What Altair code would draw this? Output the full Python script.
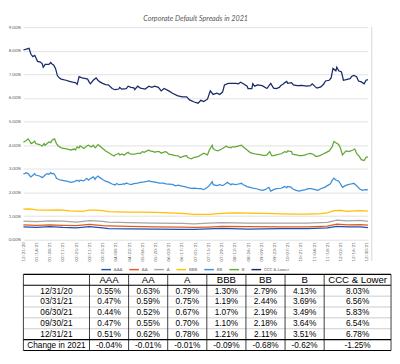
import altair as alt
import pandas as pd

START = pd.Timestamp("2020-12-31")
SERIES = ["AAA", "AA", "A", "BBB", "BB", "B", "CCC & Lower"]
COLORS = ["#2150b5", "#e35b1c", "#a5a5a5", "#ffc000", "#3d8ed9", "#62a835", "#182a6c"]

# ---- line data (day offset from 12/31/20, spread in %) ----
ccc_days = [0, 4, 6, 8, 10, 12, 13, 15, 18, 20,
            21, 23, 27, 29, 30, 32, 34, 36, 38, 40,
            45, 49, 52, 55, 57, 59, 62, 65, 68, 70,
            71, 74, 77, 79, 81, 84, 87, 90, 94, 97,
            101, 102, 104, 109, 111, 114, 117, 118, 121, 124,
            129, 133, 136, 139, 143, 146, 149, 154, 158, 163,
            168, 173, 176, 181, 185, 188, 191, 195, 198, 201,
            205, 208, 211, 213, 217, 225, 228, 230, 233, 237,
            238, 242, 243, 245, 248, 253, 258, 262, 265, 268,
            271, 273, 275, 277, 279, 280, 284, 286, 290, 295,
            300, 304, 306, 309, 311, 315, 318, 320, 324, 326,
            328, 331, 332, 334, 337, 339, 342, 346, 348, 350,
            353, 355, 358, 361, 363, 365]
ccc_vals = [8.03, 8.08, 8.10, 7.85, 7.75, 7.80, 7.72, 7.55, 7.52, 7.45,
            7.30, 7.42, 7.42, 7.50, 7.45, 7.40, 7.25, 6.95, 6.85, 6.80,
            6.75, 6.70, 6.67, 6.65, 6.58, 6.90, 6.85, 6.83, 6.80, 6.65,
            6.60, 6.75, 6.85, 6.75, 6.68, 6.62, 6.57, 6.56, 6.40, 6.35,
            6.38, 6.45, 6.38, 6.40, 6.50, 6.45, 6.43, 6.35, 6.50, 6.42,
            6.38, 6.50, 6.45, 6.50, 6.45, 6.30, 6.40, 6.30, 6.20, 6.10,
            6.05, 6.05, 5.92, 5.83, 5.78, 5.90, 5.85, 5.95, 6.30, 6.15,
            6.20, 6.15, 6.25, 6.55, 6.62, 6.62, 6.60, 6.67, 6.60, 6.50,
            6.40, 6.40, 6.60, 6.50, 6.55, 6.52, 6.40, 6.62, 6.42, 6.40,
            6.45, 6.54, 6.58, 6.65, 6.70, 6.62, 6.65, 6.55, 6.52, 6.53,
            6.50, 6.52, 6.60, 6.48, 6.42, 6.47, 6.58, 6.72, 6.75, 6.85,
            7.25, 7.15, 7.30, 7.15, 7.10, 6.75, 6.78, 6.82, 6.92, 6.95,
            6.90, 6.72, 6.68, 6.60, 6.75, 6.78]

b_days = [0, 3, 5, 7, 8, 10, 12, 13, 17, 20,
          22, 23, 27, 29, 30, 32, 33, 35, 37, 40,
          44, 47, 50, 54, 55, 57, 59, 60, 62, 64,
          65, 67, 69, 70, 72, 74, 76, 77, 79, 81,
          84, 86, 87, 90, 94, 96, 97, 99, 101, 102,
          104, 107, 109, 111, 112, 114, 117, 121, 124, 126,
          128, 131, 133, 134, 138, 139, 141, 144, 146, 148,
          151, 153, 154, 158, 161, 164, 166, 168, 171, 173,
          174, 178, 181, 185, 188, 191, 195, 197, 200, 201,
          203, 206, 208, 211, 215, 216, 220, 221, 225, 228,
          231, 233, 237, 240, 243, 247, 252, 255, 258, 261,
          263, 265, 268, 273, 277, 279, 280, 284, 285, 289,
          292, 295, 299, 300, 304, 307, 310, 314, 317, 321,
          324, 327, 329, 331, 334, 336, 338, 341, 342, 345,
          349, 351, 353, 356, 358, 361, 363, 365]
b_vals = [4.13, 4.20, 4.27, 4.16, 4.07, 4.11, 4.18, 4.07, 4.03, 3.97,
          4.07, 4.00, 4.14, 4.11, 4.20, 4.25, 4.27, 4.07, 3.97, 3.89,
          3.86, 3.84, 3.80, 3.84, 3.80, 3.93, 3.89, 3.97, 3.93, 3.86,
          3.89, 3.97, 4.00, 3.97, 3.93, 4.00, 3.89, 3.93, 4.03, 3.97,
          3.86, 3.80, 3.76, 3.69, 3.59, 3.55, 3.59, 3.62, 3.66, 3.59,
          3.62, 3.59, 3.66, 3.70, 3.66, 3.62, 3.62, 3.66, 3.66, 3.73,
          3.70, 3.76, 3.80, 3.76, 3.73, 3.70, 3.73, 3.73, 3.66, 3.70,
          3.73, 3.66, 3.62, 3.59, 3.56, 3.55, 3.48, 3.51, 3.55, 3.56,
          3.48, 3.43, 3.49, 3.52, 3.59, 3.66, 3.59, 3.80, 4.00, 3.86,
          3.80, 3.76, 3.80, 3.86, 3.97, 3.93, 3.89, 3.93, 3.93, 3.97,
          4.00, 3.93, 3.80, 3.70, 3.66, 3.62, 3.59, 3.56, 3.59, 3.73,
          3.56, 3.56, 3.59, 3.64, 3.73, 3.70, 3.76, 3.73, 3.62, 3.59,
          3.56, 3.56, 3.59, 3.62, 3.66, 3.62, 3.52, 3.56, 3.62, 3.70,
          3.76, 3.93, 4.16, 4.11, 4.03, 3.86, 3.59, 3.73, 3.76, 3.73,
          3.80, 3.84, 3.66, 3.52, 3.39, 3.35, 3.49, 3.51]

bb_days = [0, 2, 3, 5, 7, 8, 10, 12, 13, 17,
           18, 20, 22, 23, 25, 27, 29, 30, 32, 34,
           35, 37, 40, 44, 47, 50, 54, 57, 59, 60,
           64, 67, 69, 70, 74, 76, 77, 79, 81, 84,
           87, 90, 94, 97, 99, 101, 104, 106, 107, 109,
           111, 114, 117, 121, 124, 128, 131, 133, 134, 138,
           141, 144, 148, 151, 154, 158, 161, 164, 168, 171,
           174, 178, 181, 185, 188, 191, 195, 197, 200, 201,
           205, 208, 211, 215, 216, 220, 221, 225, 228, 231,
           233, 237, 240, 243, 247, 250, 253, 256, 260, 262,
           265, 268, 273, 275, 277, 279, 280, 284, 285, 289,
           292, 295, 299, 302, 305, 309, 312, 315, 319, 322,
           325, 327, 329, 331, 334, 336, 338, 341, 344, 347,
           350, 353, 356, 359, 362, 365]
bb_vals = [2.79, 2.81, 2.84, 2.80, 2.70, 2.66, 2.73, 2.80, 2.74, 2.70,
           2.68, 2.63, 2.70, 2.74, 2.80, 2.77, 2.84, 2.80, 2.81, 2.70,
           2.60, 2.56, 2.52, 2.49, 2.47, 2.43, 2.46, 2.52, 2.47, 2.52,
           2.49, 2.60, 2.52, 2.56, 2.66, 2.56, 2.63, 2.70, 2.63, 2.55,
           2.48, 2.44, 2.36, 2.32, 2.38, 2.33, 2.34, 2.37, 2.35, 2.40,
           2.37, 2.34, 2.38, 2.40, 2.43, 2.45, 2.47, 2.50, 2.47, 2.45,
           2.43, 2.40, 2.40, 2.37, 2.36, 2.34, 2.28, 2.31, 2.27, 2.25,
           2.21, 2.18, 2.19, 2.16, 2.16, 2.12, 2.22, 2.29, 2.46, 2.33,
           2.29, 2.33, 2.29, 2.39, 2.43, 2.33, 2.36, 2.33, 2.36, 2.39,
           2.33, 2.25, 2.22, 2.19, 2.16, 2.12, 2.09, 2.12, 2.22, 2.06,
           2.12, 2.16, 2.18, 2.22, 2.26, 2.20, 2.26, 2.22, 2.16, 2.09,
           2.06, 2.09, 2.12, 2.16, 2.16, 2.12, 2.09, 2.16, 2.22, 2.29,
           2.36, 2.50, 2.61, 2.53, 2.48, 2.36, 2.22, 2.29, 2.33, 2.36,
           2.39, 2.29, 2.16, 2.09, 2.12, 2.11]

bbb_days = [0, 7, 14, 21, 28, 35, 42, 49, 56, 63, 70, 77, 84, 90, 98, 112, 126, 140, 154,
            168, 181, 196, 210, 224, 238, 252, 266, 273, 287, 301, 315, 322, 329, 336, 343,
            350, 357, 365]
bbb_vals = [1.30, 1.31, 1.27, 1.25, 1.26, 1.27, 1.25, 1.22, 1.21, 1.20, 1.26, 1.25, 1.23, 1.19,
            1.18, 1.17, 1.17, 1.16, 1.14, 1.12, 1.07, 1.08, 1.12, 1.14, 1.13, 1.12, 1.11, 1.10,
            1.09, 1.09, 1.11, 1.14, 1.23, 1.24, 1.20, 1.22, 1.23, 1.21]

low_days = [0, 14, 28, 42, 56, 70, 84, 90, 112, 140, 168, 181, 196, 210, 238, 273, 301,
            322, 332, 343, 357, 365]
a_vals = [0.79, 0.77, 0.80, 0.79, 0.75, 0.81, 0.78, 0.75, 0.73, 0.71, 0.69, 0.67, 0.70,
          0.73, 0.71, 0.70, 0.70, 0.74, 0.83, 0.80, 0.82, 0.78]
aa_vals = [0.63, 0.61, 0.63, 0.61, 0.60, 0.65, 0.60, 0.59, 0.57, 0.55, 0.54, 0.52, 0.54,
           0.57, 0.56, 0.55, 0.55, 0.58, 0.66, 0.63, 0.64, 0.62]
aaa_vals = [0.55, 0.53, 0.56, 0.52, 0.50, 0.56, 0.50, 0.47, 0.46, 0.45, 0.44, 0.44, 0.46,
            0.48, 0.45, 0.47, 0.47, 0.50, 0.57, 0.55, 0.55, 0.51]

# ---- table data ----
tbl_rows = ["12/31/20", "03/31/21", "06/30/21", "09/30/21", "12/31/21", "Change in 2021"]
t_aaa = [0.55, 0.47, 0.44, 0.47, 0.51, -0.04]
t_aa = [0.63, 0.59, 0.52, 0.55, 0.62, -0.01]
t_a = [0.79, 0.75, 0.67, 0.70, 0.78, -0.01]
t_bbb = [1.30, 1.19, 1.07, 1.10, 1.21, -0.09]
t_bb = [2.79, 2.44, 2.19, 2.18, 2.11, -0.68]
t_b = [4.13, 3.69, 3.49, 3.64, 3.51, -0.62]
t_ccc = [8.03, 6.56, 5.83, 6.54, 6.78, -1.25]

# ---- build line frame ----
series_src = [("AAA", low_days, aaa_vals), ("AA", low_days, aa_vals), ("A", low_days, a_vals),
              ("BBB", bbb_days, bbb_vals), ("BB", bb_days, bb_vals), ("B", b_days, b_vals),
              ("CCC & Lower", ccc_days, ccc_vals)]
frames = []
for name, days, vals in series_src:
    frames.append(pd.DataFrame({
        "date": [START + pd.Timedelta(days=d) for d in days],
        "series": name,
        "value": vals,
    }))
df = pd.concat(frames, ignore_index=True)

tick_dates = [alt.DateTime(year=t.year, month=t.month, date=t.day)
              for t in pd.date_range(START, periods=27, freq="14D")]

W, H = 358, 221
GRAY = "#595959"
FONT = "Lato"

lines = alt.Chart(df).mark_line(strokeWidth=1.3).encode(
    x=alt.X("date:T", title=None,
            scale=alt.Scale(domain=[alt.DateTime(year=2020, month=12, date=31),
                                    alt.DateTime(year=2021, month=12, date=31)], nice=False),
            axis=alt.Axis(values=tick_dates, format="%m/%d/%y", labelAngle=-90,
                          labelFontSize=4.6, labelColor=GRAY, labelFont=FONT, ticks=False,
                          domain=False, grid=False, labelPadding=2, labelOverlap=False)),
    y=alt.Y("value:Q", title=None, scale=alt.Scale(domain=[0, 9], nice=False),
            axis=alt.Axis(values=list(range(10)), labelExpr="format(datum.value, '.2f') + '%'",
                          labelFontSize=4.6, labelColor=GRAY, labelFont=FONT, ticks=False,
                          domain=False, gridColor="#d9d9d9", gridWidth=0.8, labelPadding=3)),
    color=alt.Color("series:N", scale=alt.Scale(domain=SERIES, range=COLORS),
                    legend=alt.Legend(title=None, orient="none", direction="horizontal",
                                      legendX=80, legendY=H + 25, symbolType="stroke",
                                      symbolSize=100, symbolStrokeWidth=1.5,
                                      labelFontSize=4.4, labelFont=FONT, labelColor=GRAY,
                                      columnPadding=4, labelOffset=2)),
)

border = alt.Chart(pd.DataFrame({"k": [0]})).mark_rule(color="#d4d4d4", strokeWidth=1).encode(
    x=alt.value(W + 4), y=alt.value(0), y2=alt.value(H + 22))

top = alt.layer(lines, border).properties(
    width=W, height=H,
    title=alt.TitleParams("Corporate Default Spreads in 2021", fontSize=7.5, font=FONT,
                          fontStyle="italic", fontWeight="normal", color=GRAY, offset=2,
                          anchor="middle"))

# ---- table ----
COL_W = [1.69, 1, 1, 1, 1, 1, 1, 1.71]
edges = [0.0]
for w in COL_W:
    edges.append(edges[-1] + w)
total = edges[-1]
centers = [(edges[i] + edges[i + 1]) / 2 for i in range(len(COL_W))]
NROW = len(tbl_rows) + 1

cells = []
for c, txt in enumerate([""] + SERIES):
    cells.append({"x": centers[c], "y": 0.5, "text": txt, "kind": "head"})
tcols = [t_aaa, t_aa, t_a, t_bbb, t_bb, t_b, t_ccc]
for r, lab in enumerate(tbl_rows):
    vals = [lab] + [f"{col[r]:.2f}%" for col in tcols]
    for c, txt in enumerate(vals):
        cells.append({"x": centers[c], "y": r + 1.5, "text": txt, "kind": "body"})
cells_df = pd.DataFrame(cells)

xs = alt.Scale(domain=[0, total], nice=False, zero=False)
ys = alt.Scale(domain=[0, NROW], nice=False, zero=False, reverse=True)

hdark = pd.DataFrame({"y": [0, 1, NROW - 1, NROW], "x0": 0.0, "x1": total})
hlight = pd.DataFrame({"y": list(range(2, NROW - 1)), "x0": 0.0, "x1": total})
vlines = pd.DataFrame({"x": edges, "y0": 0, "y1": NROW})

t_head = alt.Chart(cells_df).transform_filter(alt.datum.kind == "head").mark_text(
    fontSize=10, font="Liberation Sans", color="black", baseline="middle", align="center"
).encode(x=alt.X("x:Q", scale=xs, axis=None), y=alt.Y("y:Q", scale=ys, axis=None), text="text:N")
t_body = alt.Chart(cells_df).transform_filter(alt.datum.kind == "body").mark_text(
    fontSize=8.6, font="Liberation Sans", color="black", baseline="middle", align="center"
).encode(x=alt.X("x:Q", scale=xs, axis=None), y=alt.Y("y:Q", scale=ys, axis=None), text="text:N")
r_light = alt.Chart(hlight).mark_rule(color="#bdbdbd", strokeWidth=0.8).encode(
    x=alt.X("x0:Q", scale=xs, axis=None), x2="x1:Q", y=alt.Y("y:Q", scale=ys, axis=None))
r_dark = alt.Chart(hdark).mark_rule(color="black", strokeWidth=1.2).encode(
    x=alt.X("x0:Q", scale=xs, axis=None), x2="x1:Q", y=alt.Y("y:Q", scale=ys, axis=None))
r_v = alt.Chart(vlines).mark_rule(color="#222222", strokeWidth=0.9).encode(
    x=alt.X("x:Q", scale=xs, axis=None), y=alt.Y("y0:Q", scale=ys, axis=None), y2="y1:Q")

table = alt.layer(r_light, r_v, r_dark, t_head, t_body).properties(width=382, height=79)

chart = alt.vconcat(top, table, spacing=12).properties(padding=0).configure_view(stroke=None)

chart.save("out.html", embed_options={"renderer": "svg", "actions": False})
